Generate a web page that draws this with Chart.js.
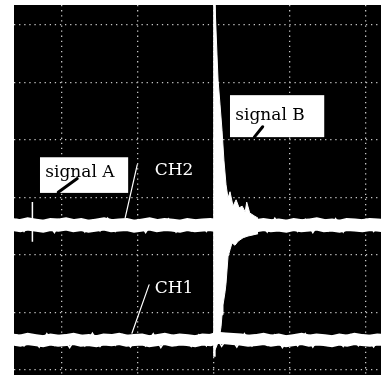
<!DOCTYPE html>
<html>
<head>
<meta charset="utf-8">
<script src="https://cdn.jsdelivr.net/npm/chart.js@4/dist/chart.umd.min.js"></script>
<style>
  html, body { margin: 0; padding: 0; background: #fff; }
  #scope { display: block; }
</style>
</head>
<body>
<canvas id="scope" width="384" height="375"></canvas>
<script>
// time in divisions (0 = trigger), voltage in divisions
const xGrid = [-2, -1, 0, 1, 2];
const yGrid = [-3, -2, -1, 0, 1, 2, 3];

const sampleTime = [-2.65,-2.55,-2.45,-2.35,-2.25,-2.15,-2.05,-1.95,-1.85,-1.75,
  -1.65,-1.55,-1.45,-1.35,-1.25,-1.15,-1.05,-0.95,-0.85,-0.75,
  -0.65,-0.55,-0.45,-0.35,-0.25,-0.15,-0.05,0.05,0.15,0.25,
  0.35,0.45,0.55,0.65,0.75,0.85,0.95,1.05,1.15,1.25,
  1.35,1.45,1.55,1.65,1.75,1.85,1.95,2.05,2.15,2.25];
const fuzzTime = [-2.6,-2.5,-2.4,-2.3,-2.2,-2.1,-2.0,-1.9,-1.8,-1.7,
  -1.6,-1.5,-1.4,-1.3,-1.2,-1.1,-1.0,-0.9,-0.8,-0.7,
  -0.6,-0.5,-0.4,-0.3,-0.2,-0.1,0.0,0.1,0.2,0.3,
  0.4,0.5,0.6,0.7,0.8,0.9,1.0,1.1,1.2,1.3,
  1.4,1.5,1.6,1.7,1.8,1.9,2.0,2.1,2.2];

const ch2Volt = [-0.47,-0.49,-0.46,-0.48,-0.50,-0.47,-0.48,-0.46,-0.49,-0.47,
  -0.50,-0.48,-0.46,-0.49,-0.48,-0.47,-0.50,-0.48,-0.46,-0.49,
  -0.47,-0.48,-0.50,-0.47,-0.49,-0.48,-0.47,-0.49,-0.50,-0.49,
  -0.48,-0.50,-0.49,-0.47,-0.49,-0.48,-0.50,-0.47,-0.49,-0.48,
  -0.46,-0.49,-0.48,-0.50,-0.47,-0.48,-0.49,-0.47,-0.48,-0.49];
const ch2Fuzz = [-0.37,-0.59,-0.40,-0.57,-0.42,-0.61,-0.38,-0.56,-0.41,-0.60,
  -0.40,-0.58,-0.36,-0.59,-0.42,-0.57,-0.39,-0.61,-0.41,-0.56,
  -0.37,-0.60,-0.40,-0.58,-0.42,-0.59,-0.38,-0.57,-0.41,-0.61,
  -0.37,-0.58,-0.40,-0.60,-0.36,-0.57,-0.41,-0.59,-0.38,-0.61,
  -0.42,-0.58,-0.37,-0.60,-0.40,-0.57,-0.38,-0.59,-0.41];

const ch1Volt = [-2.47,-2.49,-2.46,-2.48,-2.50,-2.47,-2.49,-2.48,-2.46,-2.49,
  -2.48,-2.50,-2.47,-2.48,-2.46,-2.49,-2.48,-2.47,-2.50,-2.48,
  -2.46,-2.49,-2.47,-2.48,-2.50,-2.47,-2.48,-2.44,-2.45,-2.46,
  -2.47,-2.49,-2.48,-2.46,-2.49,-2.47,-2.50,-2.48,-2.46,-2.49,
  -2.47,-2.48,-2.50,-2.47,-2.49,-2.46,-2.48,-2.49,-2.47,-2.48];
const ch1Fuzz = [-2.38,-2.58,-2.41,-2.60,-2.37,-2.57,-2.42,-2.61,-2.40,-2.58,
  -2.36,-2.59,-2.41,-2.57,-2.39,-2.60,-2.42,-2.58,-2.37,-2.61,
  -2.40,-2.57,-2.41,-2.59,-2.39,-2.58,-2.35,-2.59,-2.40,-2.60,
  -2.37,-2.58,-2.42,-2.57,-2.39,-2.61,-2.41,-2.58,-2.37,-2.60,
  -2.40,-2.57,-2.42,-2.59,-2.39,-2.58,-2.41,-2.60,-2.40];

// signal B: CH2 burst after the trigger (upper envelope)
const burstTime = [0.013,0.039,0.053,0.079,0.105,0.13,0.158,0.184,0.21,0.25,0.29,0.33,0.37,0.41,0.43,0.47,0.53,0.58];
const burstVolt = [3.35,2.48,2.04,1.61,1.17,0.65,0.22,-0.01,0.10,-0.15,-0.04,-0.18,-0.15,-0.25,-0.08,-0.27,-0.32,-0.36];

// CH1 response after the trigger (lower envelope)
const ch1RespTime = [0.013,0.039,0.066,0.079,0.092,0.105,0.118,0.145,0.158,0.171,0.184,0.21,0.237,0.276,0.316,0.382,0.447,0.513,0.58];
const ch1RespVolt = [-2.65,-2.57,-2.44,-2.36,-2.25,-2.04,-1.87,-1.64,-1.49,-1.26,-1.03,-0.91,-0.79,-0.83,-0.76,-0.70,-0.67,-0.65,-0.63];

// trigger spike and the small glitch on CH2
const spikeTime = [0.005, 0.005];
const spikeVolt = [3.4, -2.77];
const glitchTime = [-2.39, -2.39];
const glitchVolt = [-0.08, -0.77];

function pts(xs, ys) { return xs.map((x, i) => ({ x: x, y: ys[i] })); }

const white = "#ffffff";

const scopeBg = {
  id: "scopeBg",
  beforeDraw(chart) {
    const a = chart.chartArea, ctx = chart.ctx;
    ctx.save();
    ctx.fillStyle = "#000";
    ctx.fillRect(a.left, a.top, a.right - a.left, a.bottom - a.top);
    ctx.restore();
  }
};

// label anchors in data units
const labels = {
  boxA: { text: "signal A", x: -2.22, y: 0.35, box: [-2.29, 0.70, -1.13, 0.08], ptr: [-1.80, 0.33, -2.05, 0.09] },
  boxB: { text: "signal B", x: 0.28, y: 1.35, box: [0.21, 1.78, 1.45, 1.05], ptr: [0.64, 1.23, 0.53, 1.05] },
  ch2: { text: "CH2", x: -0.78, y: 0.39, lead: [-1.01, 0.57, -1.17, -0.36] },
  ch1: { text: "CH1", x: -0.78, y: -1.66, lead: [-0.855, -1.52, -1.08, -2.36] }
};

const notes = {
  id: "notes",
  afterDatasetsDraw(chart) {
    const ctx = chart.ctx, sx = chart.scales.x, sy = chart.scales.y;
    const X = v => sx.getPixelForValue(v), Y = v => sy.getPixelForValue(v);
    const line = (p, color, w) => {
      ctx.strokeStyle = color; ctx.lineWidth = w; ctx.lineCap = "round";
      ctx.beginPath(); ctx.moveTo(X(p[0]), Y(p[1])); ctx.lineTo(X(p[2]), Y(p[3])); ctx.stroke();
    };
    ctx.save();
    ctx.font = "17px 'DejaVu Serif', serif";
    ctx.textBaseline = "alphabetic";
    [labels.boxA, labels.boxB].forEach(l => {
      ctx.fillStyle = white;
      ctx.fillRect(X(l.box[0]), Y(l.box[1]), X(l.box[2]) - X(l.box[0]), Y(l.box[3]) - Y(l.box[1]));
      ctx.fillStyle = "#000";
      ctx.fillText(l.text, X(l.x), Y(l.y));
      line(l.ptr, "#000", 3);
    });
    [labels.ch2, labels.ch1].forEach(l => {
      ctx.fillStyle = white;
      ctx.fillText(l.text, X(l.x), Y(l.y));
      line(l.lead, white, 1.2);
    });
    ctx.restore();
  }
};

const gridOpts = (ticks) => ({
  type: "linear",
  ticks: { display: false },
  grid: { color: "#c4c4c4", lineWidth: 1.3, drawTicks: false },
  border: { display: false, dash: [1.3, 3.8] },
  afterBuildTicks: s => { s.ticks = ticks.map(v => ({ value: v })); }
});

const xScale = Object.assign(gridOpts(xGrid), { min: -2.632, max: 2.197 });
const yScale = Object.assign(gridOpts(yGrid), { min: -3.087, max: 3.348 });

new Chart(document.getElementById("scope").getContext("2d"), {
  type: "scatter",
  data: {
    datasets: [
      { label: "signal B", data: pts(burstTime, burstVolt), showLine: true, borderColor: white, borderWidth: 1, backgroundColor: white, fill: { value: -0.48 } },
      { label: "CH1 response", data: pts(ch1RespTime, ch1RespVolt), showLine: true, borderColor: white, borderWidth: 1, backgroundColor: white, fill: { value: -0.48 } },
      { label: "CH2", data: pts(sampleTime, ch2Volt), showLine: true, borderColor: white, borderWidth: 13 },
      { label: "CH2 noise", data: pts(fuzzTime, ch2Fuzz), showLine: true, borderColor: white, borderWidth: 1.5 },
      { label: "CH1", data: pts(sampleTime, ch1Volt), showLine: true, borderColor: white, borderWidth: 12 },
      { label: "CH1 noise", data: pts(fuzzTime, ch1Fuzz), showLine: true, borderColor: white, borderWidth: 1.5 },
      { label: "trigger", data: pts(spikeTime, spikeVolt), showLine: true, borderColor: white, borderWidth: 2.5 },
      { label: "glitch", data: pts(glitchTime, glitchVolt), showLine: true, borderColor: white, borderWidth: 1.5 }
    ]
  },
  options: {
    responsive: false,
    animation: false,
    devicePixelRatio: 1,
    layout: { padding: { left: 14, right: 3, top: 5, bottom: 0 } },
    elements: { point: { radius: 0, hoverRadius: 0 }, line: { tension: 0 } },
    plugins: { legend: { display: false }, tooltip: { enabled: false } },
    scales: { x: xScale, y: yScale }
  },
  plugins: [scopeBg, notes]
});
</script>
</body>
</html>
